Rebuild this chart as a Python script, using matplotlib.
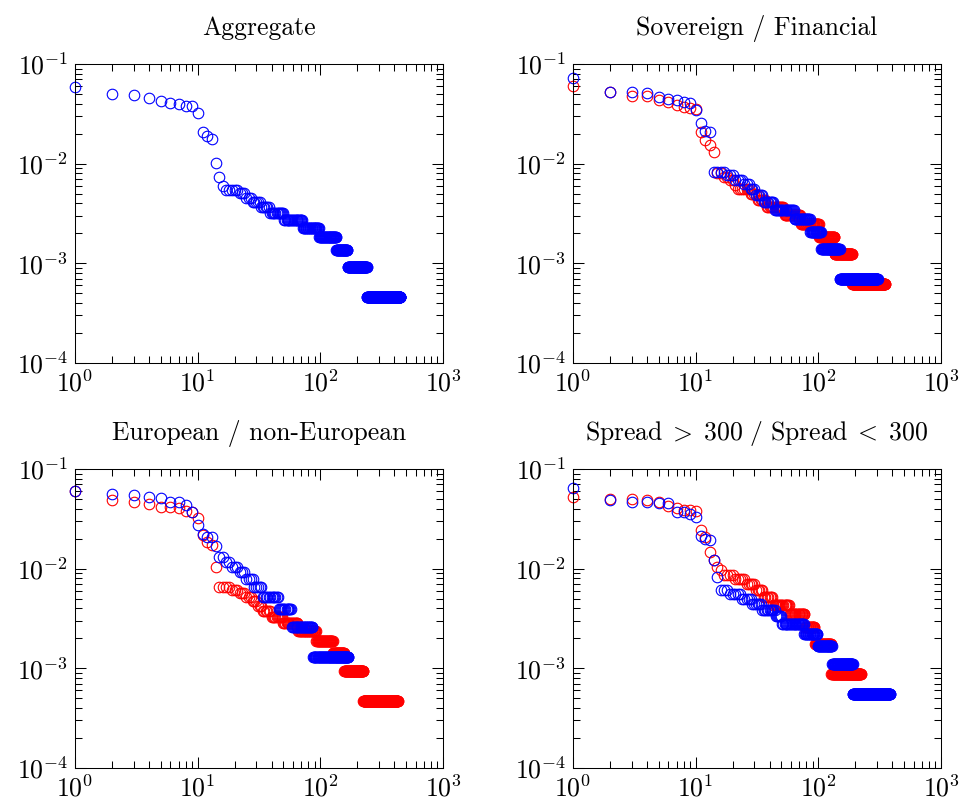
# ==========================================
# Rank / frequency plots, four panels
# ==========================================

import numpy as np
import matplotlib
matplotlib.use("Agg")
import matplotlib.pyplot as plt
from matplotlib.ticker import LogLocator, NullFormatter


# ==========================================
# Data (counts per rank)
# head = first ranks one by one, then runs of equal counts
# ==========================================

# Aggregate
agg_head = [128, 109, 107, 99, 94, 88, 87, 83, 82, 70, 46, 41, 39, 22, 16, 13]
agg_levels = [12, 11, 10, 9, 8, 7, 6, 5, 4, 3, 2, 1]
agg_runs = [5, 3, 3, 5, 6, 12, 21, 26, 37, 32, 73, 211]
agg_total = 2188

# Sovereign (blue) / Financial (red)
sov_head = [105, 76, 75, 74, 68, 65, 63, 60, 58, 50, 37, 31, 30]
sov_levels = [12, 11, 10, 9, 8, 7, 6, 5, 4, 3, 2, 1]
sov_runs = [4, 3, 4, 3, 3, 5, 8, 20, 22, 20, 44, 155]
sov_total = 1443

fin_head = [98, 84, 78, 77, 71, 68, 63, 60, 58, 57, 34, 28, 25, 21]
fin_levels = [13, 12, 11, 10, 9, 8, 7, 6, 5, 4, 3, 2, 1]
fin_runs = [2, 2, 2, 1, 6, 4, 6, 15, 19, 30, 34, 53, 161]
fin_total = 1621

# European (blue) / non-European (red)
eur_head = [46, 43, 42, 40, 39, 36, 36, 33, 28, 21, 17, 16, 16, 13, 10, 10]
eur_levels = [9, 8, 7, 6, 5, 4, 3, 2, 1]
eur_runs = [2, 3, 3, 4, 5, 12, 13, 28, 83]
eur_total = 764

noneur_head = [128, 104, 98, 95, 89, 88, 86, 81, 79, 69, 46, 39, 37, 22]
noneur_levels = [14, 13, 12, 11, 10, 9, 8, 7, 6, 5, 4, 3, 2, 1]
noneur_runs = [4, 3, 3, 3, 3, 3, 6, 10, 16, 27, 34, 30, 67, 204]
noneur_total = 2123

# Spread > 300 (red) / Spread < 300 (blue)
hi_head = [60, 57, 57, 56, 54, 49, 47, 44, 44, 43, 28, 24, 17, 14, 12, 11]
hi_levels = [10, 9, 8, 7, 6, 5, 4, 3, 2, 1]
hi_runs = [4, 5, 5, 5, 7, 16, 19, 16, 34, 95]
hi_total = 1146

lo_head = [116, 89, 85, 85, 83, 82, 67, 67, 64, 60, 38, 36, 35, 22, 15, 11]
lo_levels = [11, 10, 9, 8, 7, 6, 5, 4, 3, 2, 1]
lo_runs = [2, 5, 5, 6, 10, 6, 26, 22, 31, 61, 193]
lo_total = 1807

titles = [
    "Aggregate",
    "Sovereign / Financial",
    "European / non-European",
    r"$\mathrm{Spread}\;>\;300\ /\ \mathrm{Spread}\;<\;300$",
]


def rank_freq(head, levels, runs, total):
    counts = np.concatenate([head, np.repeat(levels, runs)]).astype(float)
    ranks = np.arange(1, len(counts) + 1)
    return ranks, counts / total


# ==========================================
# Style
# ==========================================

plt.rcParams["font.family"] = "serif"
plt.rcParams["font.serif"] = ["cmr10"]
plt.rcParams["mathtext.fontset"] = "cm"
plt.rcParams["axes.formatter.use_mathtext"] = True
plt.rcParams["axes.unicode_minus"] = True

FS = 18.5
panels = [
    [(agg_head, agg_levels, agg_runs, agg_total, "blue")],
    [(fin_head, fin_levels, fin_runs, fin_total, "red"),
     (sov_head, sov_levels, sov_runs, sov_total, "blue")],
    [(noneur_head, noneur_levels, noneur_runs, noneur_total, "red"),
     (eur_head, eur_levels, eur_runs, eur_total, "blue")],
    [(hi_head, hi_levels, hi_runs, hi_total, "red"),
     (lo_head, lo_levels, lo_runs, lo_total, "blue")],
]

# axes boxes in pixels (left, top)
W, H = 962, 801
boxes = [
    (75, 64), (573, 64),
    (75, 469), (573, 469),
]
ax_w, ax_h = 368, 299


# ==========================================
# Plot
# ==========================================

fig = plt.figure(figsize=(W / 100, H / 100), dpi=100)

for (px, py), title, series in zip(boxes, titles, panels):
    ax = fig.add_axes([px / W, 1 - (py + ax_h) / H, ax_w / W, ax_h / H])

    for head, levels, runs, total, color in series:
        x, y = rank_freq(head, levels, runs, total)
        ax.plot(x, y, linestyle="none", marker="o", markersize=7.6,
                markerfacecolor="none", markeredgecolor=color,
                markeredgewidth=0.8, clip_on=False)

    ax.set_xscale("log")
    ax.set_yscale("log")
    ax.set_xlim(1, 1000)
    ax.set_ylim(1e-4, 1e-1)

    ax.xaxis.set_major_locator(LogLocator(base=10, numticks=10))
    ax.yaxis.set_major_locator(LogLocator(base=10, numticks=10))
    ax.xaxis.set_minor_locator(LogLocator(base=10, subs=np.arange(2, 10), numticks=20))
    ax.yaxis.set_minor_locator(LogLocator(base=10, subs=np.arange(2, 10), numticks=20))
    ax.xaxis.set_minor_formatter(NullFormatter())
    ax.yaxis.set_minor_formatter(NullFormatter())

    ax.tick_params(which="both", direction="in", top=True, right=True,
                   width=0.75, color="black", labelsize=FS)
    ax.tick_params(which="major", length=7.9, pad=5)
    ax.tick_params(which="minor", length=5.3)
    for sp in ax.spines.values():
        sp.set_linewidth(0.75)

    ax.set_title(title, fontsize=FS, pad=21)

fig.savefig("out.png", dpi=100)
